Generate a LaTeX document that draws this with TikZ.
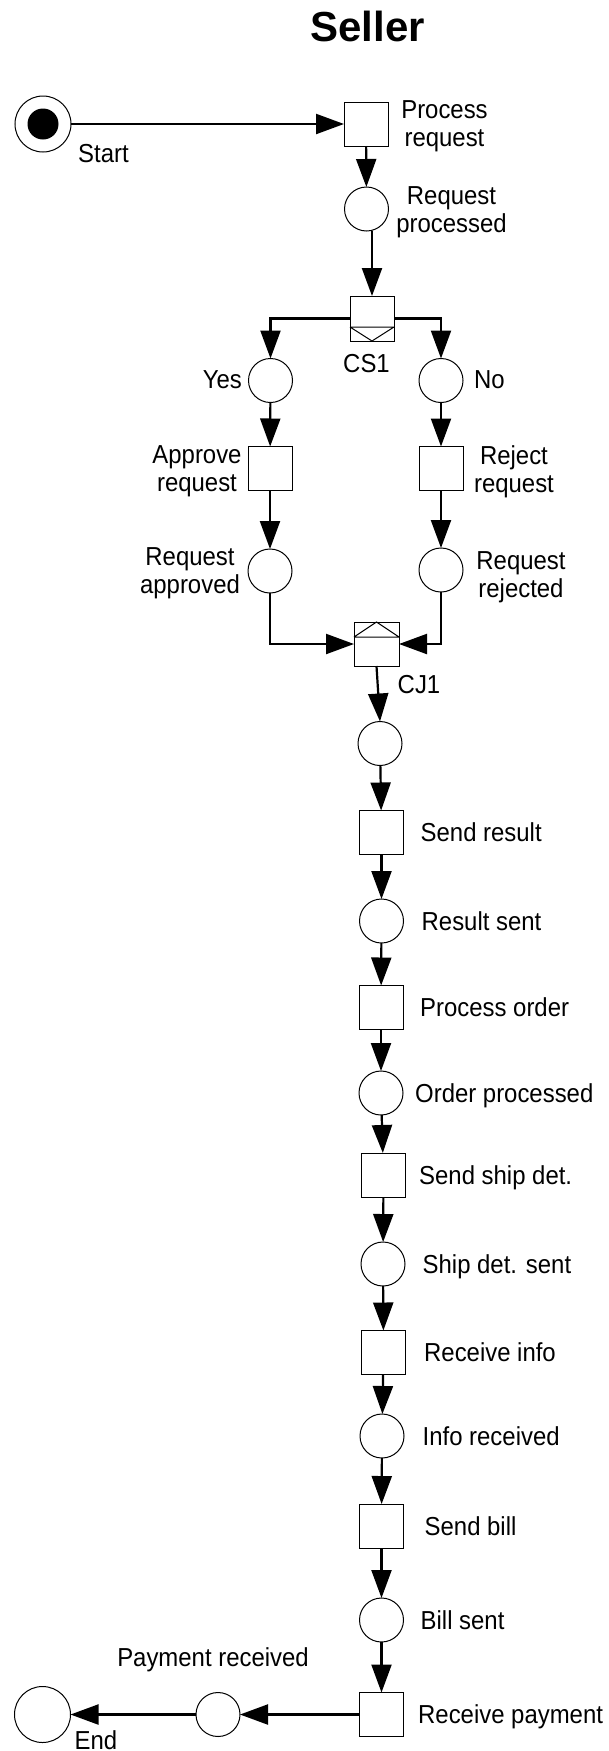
\documentclass[tikz,border=0pt]{standalone}
\usepackage{fontspec}
\setmainfont{Liberation Sans}[FakeStretch=0.92]
\newfontfamily\headfont{Liberation Sans}
\usetikzlibrary{arrows.meta}

\begin{document}
\begin{tikzpicture}[x=1pt,y=-1pt,
  place/.style={circle,draw,line width=1pt,minimum size=44pt,inner sep=0pt,outer sep=0pt},
  trans/.style={rectangle,draw,line width=1pt,minimum size=44pt,inner sep=0pt,outer sep=0pt},
  flow/.style={line width=2.2pt,-{Triangle[length=28pt,width=20pt]}},
  lbl/.style={font=\fontsize{26}{28}\selectfont,inner sep=0pt,align=center},
  ]
\fill[white] (0,0) rectangle (608,1751);
\useasboundingbox (0,0) rectangle (608,1751);

% heading
\node[font=\headfont\bfseries\fontsize{42}{50}\selectfont,inner sep=0pt,anchor=base] (title) at (367.5,41) {Seller};

% start and the request handling
\node[place,minimum size=56pt] (start) at (43,124) {};
\fill (start.center) circle[radius=15.5pt];
\node[lbl,anchor=base west] (startlbl) at (78,162) {Start};

\node[trans] (pr) at (366,124) {};
\node[lbl,anchor=north] (prlbl) at (444.5,100) {Process\\request};
\node[place] (rp) at (366.5,209) {};
\node[lbl,anchor=north] (rplbl) at (451.5,186) {Request\\processed};

% conditional split
\node[trans,minimum width=44pt,minimum height=45pt] (cs1) at (372,318.5) {};
\draw[line width=1pt] ([yshift=14pt]cs1.south west) -- ([yshift=14pt]cs1.south east)
  ([yshift=14pt]cs1.south west) -- (cs1.south) -- ([yshift=14pt]cs1.south east);
\node[lbl,anchor=base] (cs1lbl) at (366.5,372) {CS1};

% the two branches
\node[place] (yes) at (270.5,380.5) {};
\node[lbl,anchor=base east] (yeslbl) at (242,388.5) {Yes};
\node[place] (no) at (441,380.5) {};
\node[lbl,anchor=base west] (nolbl) at (474,388.5) {No};

\node[trans] (ar) at (270,468.5) {};
\node[lbl,anchor=north] (arlbl) at (197,445) {Approve\\request};
\node[trans] (rj) at (441,468.5) {};
\node[lbl,anchor=north] (rjlbl) at (514,445) {Reject\\request};

\node[place] (ra) at (270,571) {};
\node[lbl,anchor=north] (ralbl) at (190,547) {Request\\approved};
\node[place] (rr) at (441,570) {};
\node[lbl,anchor=north] (rrlbl) at (521,551) {Request\\rejected};

% conditional join
\node[trans,minimum width=45pt,minimum height=44pt] (cj1) at (376.5,644) {};
\draw[line width=1pt] ([yshift=-15pt]cj1.north west) -- ([yshift=-15pt]cj1.north east)
  ([yshift=-15pt]cj1.north west) -- (cj1.north) -- ([yshift=-15pt]cj1.north east);
\node[lbl,anchor=base] (cj1lbl) at (419,693) {CJ1};

% main sequence
\node[place] (p1) at (380,743.5) {};
\node[trans] (sr) at (381.5,832.5) {};
\node[lbl,anchor=base west] (srlbl) at (420.5,841.5) {Send result};
\node[place] (rs) at (381.5,921) {};
\node[lbl,anchor=base west] (rslbl) at (421.5,930) {Result sent};
\node[trans] (po) at (381,1007.5) {};
\node[lbl,anchor=base west] (polbl) at (420,1016.5) {Process order};
\node[place] (op) at (381,1093) {};
\node[lbl,anchor=base west] (oplbl) at (415,1102) {Order processed};
\node[trans] (ssd) at (383.5,1175) {};
\node[lbl,anchor=base west] (ssdlbl) at (419,1184) {Send ship det.};
\node[place] (sds) at (383,1264) {};
\node[lbl,anchor=base west] (sdslbl) at (422.5,1273) {Ship det. sent};
\node[trans] (ri) at (383.5,1352.5) {};
\node[lbl,anchor=base west] (rilbl) at (424,1361.5) {Receive info};
\node[place] (ir) at (382,1436) {};
\node[lbl,anchor=base west] (irlbl) at (422.5,1445) {Info received};
\node[trans] (sb) at (381.5,1526) {};
\node[lbl,anchor=base west] (sblbl) at (424.5,1535) {Send bill};
\node[place] (bs) at (381.5,1620) {};
\node[lbl,anchor=base west] (bslbl) at (420.5,1629) {Bill sent};
\node[trans] (rpay) at (381.5,1714.5) {};
\node[lbl,anchor=base west] (rpaylbl) at (418,1723.5) {Receive payment};

% payment and end
\node[place] (prc) at (218,1714.5) {};
\node[lbl,anchor=base] (prclbl) at (213,1666) {Payment received};
\node[place,minimum size=56pt] (end) at (42.5,1714.5) {};
\node[lbl,anchor=base] (endlbl) at (96,1749) {End};

% connectors
\draw[flow] (start) -- (pr);
\draw[flow] (pr) -- (rp);
\draw[flow] (rp.south -| cs1.north) -- (cs1.north);
\draw[flow] (cs1.west) -| (yes.north);
\draw[flow] (cs1.east) -| (no.north);
\draw[flow] (yes) -- (ar);
\draw[flow] (ar) -- (ra);
\draw[flow] (no) -- (rj);
\draw[flow] (rj) -- (rr);
\draw[flow] (ra.south) |- (cj1.west);
\draw[flow] (rr.south) |- (cj1.east);
\draw[flow] (cj1.south) -- (p1.north);
\draw[flow] (p1) -- (sr);
\draw[flow] (sr) -- (rs);
\draw[flow] (rs) -- (po);
\draw[flow] (po) -- (op);
\draw[flow] (op) -- (ssd);
\draw[flow] (ssd) -- (sds);
\draw[flow] (sds) -- (ri);
\draw[flow] (ri) -- (ir);
\draw[flow] (ir) -- (sb);
\draw[flow] (sb) -- (bs);
\draw[flow] (bs) -- (rpay);
\draw[flow] (rpay) -- (prc);
\draw[flow] (prc) -- (end);
\end{tikzpicture}
\end{document}
